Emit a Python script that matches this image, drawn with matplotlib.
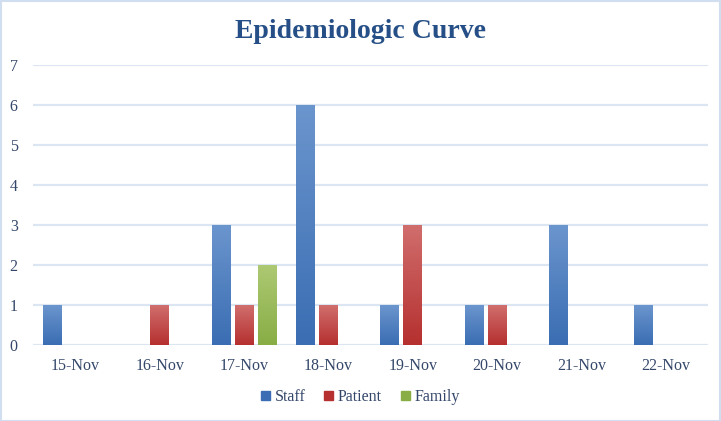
import numpy as np
import matplotlib
matplotlib.use("Agg")
import matplotlib.pyplot as plt
from matplotlib.colors import LinearSegmentedColormap
from matplotlib.patches import Rectangle

dates = ["15-Nov", "16-Nov", "17-Nov", "18-Nov", "19-Nov", "20-Nov", "21-Nov", "22-Nov"]
staff = [1, 0, 3, 6, 1, 1, 3, 1]
patient = [0, 1, 1, 1, 3, 1, 0, 0]
family = [0, 0, 2, 0, 0, 0, 0, 0]

series = [("Staff", staff, "#6B95CD", "#3A6DB3"),
          ("Patient", patient, "#D06E6D", "#B5302F"),
          ("Family", family, "#ADC973", "#88AD45")]

plt.rcParams['font.family'] = ['Liberation Serif', 'DejaVu Serif']
txt_color = "#34476A"

fig = plt.figure(figsize=(7.21, 4.21), dpi=100)
ax = fig.add_axes([0.0458, 0.1805, 0.9362, 0.665])

x = np.arange(len(dates))
width = 0.22
step = 0.273

grad = np.linspace(1, 0, 256).reshape(-1, 1)
for i, (name, vals, top, bot) in enumerate(series):
    cmap = LinearSegmentedColormap.from_list(name, [bot, top])
    bars = ax.bar(x + (i - 1) * step, vals, width, color=top, label=name, zorder=2)
    for b in bars:
        if b.get_height() == 0:
            continue
        bx, by = b.get_x(), b.get_y()
        bw, bh = b.get_width(), b.get_height()
        im = ax.imshow(grad, cmap=cmap, aspect='auto', zorder=3,
                       extent=(bx, bx + bw, by, by + bh))
        im.set_clip_path(b)

ax.set_xlim(-0.5, len(dates) - 0.5)
ax.set_ylim(0, 7)
ax.set_yticks(range(0, 8))
ax.set_xticks(x)
ax.set_xticklabels(dates)
ax.yaxis.grid(True, color="#DCE6F2", linewidth=1.6, zorder=0)
ax.set_axisbelow(True)
for s in ax.spines.values():
    s.set_visible(False)
ax.tick_params(length=0, labelsize=11.5, labelcolor=txt_color)
ax.tick_params(axis='y', pad=11)
ax.tick_params(axis='x', pad=9)

fig.suptitle("Epidemiologic Curve", y=0.955, fontsize=20, fontweight='bold',
             color="#254F86")

handles = [Rectangle((0, 0), 1, 1, color=c) for _, _, _, c in series]
fig.legend(handles, [s[0] for s in series], loc='center', ncol=3,
           bbox_to_anchor=(0.5, 0.057), frameon=False, fontsize=11.5,
           labelcolor=txt_color, handlelength=0.55, handleheight=0.55,
           handletextpad=0.3, columnspacing=1.2)

fig.patches.append(Rectangle((0.001, 0.001), 0.998, 0.997, transform=fig.transFigure,
                             fill=False, edgecolor="#D0DEF0", linewidth=1.5))

fig.savefig("out.png", dpi=100)
